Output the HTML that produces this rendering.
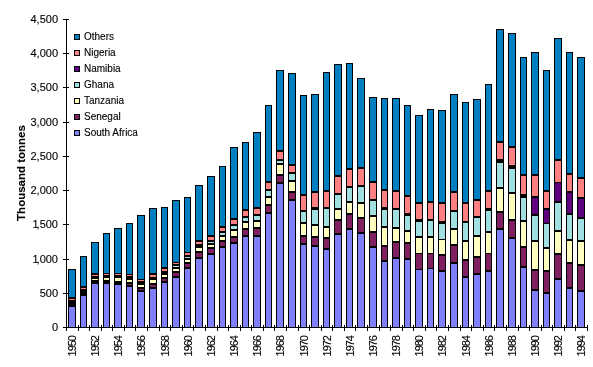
<!DOCTYPE html>
<html><head><meta charset="utf-8"><style>
html,body{margin:0;padding:0;background:#fff;}
body{width:593px;height:367px;overflow:hidden;}
svg{display:block;}
text{filter:grayscale(1);font-family:"Liberation Sans",sans-serif;fill:#000;stroke:#000;stroke-width:0.12px;}
</style></head><body>
<svg width="593" height="367" viewBox="0 0 593 367">
<rect x="0" y="0" width="593" height="367" fill="#fff"/>
<g shape-rendering="crispEdges">
<rect x="68" y="269" width="8" height="58" fill="#000"/>
<rect x="69" y="270" width="6" height="27" fill="#0080C0"/>
<rect x="69" y="299" width="6" height="1" fill="#FF8080"/>
<rect x="69" y="307" width="6" height="20" fill="#8080FF"/>
<rect x="80" y="256" width="7" height="71" fill="#000"/>
<rect x="81" y="257" width="5" height="29" fill="#0080C0"/>
<rect x="81" y="288" width="5" height="1" fill="#FF8080"/>
<rect x="81" y="296" width="5" height="31" fill="#8080FF"/>
<rect x="91" y="242" width="8" height="85" fill="#000"/>
<rect x="92" y="243" width="6" height="30" fill="#0080C0"/>
<rect x="92" y="275" width="6" height="1" fill="#FF8080"/>
<rect x="92" y="279" width="6" height="1" fill="#FFFFC0"/>
<rect x="92" y="284" width="6" height="43" fill="#8080FF"/>
<rect x="103" y="233" width="7" height="94" fill="#000"/>
<rect x="104" y="234" width="5" height="39" fill="#0080C0"/>
<rect x="104" y="274" width="5" height="1" fill="#FF8080"/>
<rect x="104" y="278" width="5" height="2" fill="#FFFFC0"/>
<rect x="104" y="284" width="5" height="43" fill="#8080FF"/>
<rect x="114" y="228" width="8" height="99" fill="#000"/>
<rect x="115" y="229" width="6" height="44" fill="#0080C0"/>
<rect x="115" y="274" width="6" height="1" fill="#FF8080"/>
<rect x="115" y="278" width="6" height="3" fill="#FFFFC0"/>
<rect x="115" y="285" width="6" height="42" fill="#8080FF"/>
<rect x="126" y="223" width="7" height="104" fill="#000"/>
<rect x="127" y="224" width="5" height="50" fill="#0080C0"/>
<rect x="127" y="275" width="5" height="1" fill="#FF8080"/>
<rect x="127" y="280" width="5" height="2" fill="#FFFFC0"/>
<rect x="127" y="284" width="5" height="1" fill="#802060"/>
<rect x="127" y="287" width="5" height="40" fill="#8080FF"/>
<rect x="137" y="215" width="8" height="112" fill="#000"/>
<rect x="138" y="216" width="6" height="63" fill="#0080C0"/>
<rect x="138" y="280" width="6" height="1" fill="#FF8080"/>
<rect x="138" y="285" width="6" height="2" fill="#FFFFC0"/>
<rect x="138" y="289" width="6" height="1" fill="#802060"/>
<rect x="138" y="292" width="6" height="35" fill="#8080FF"/>
<rect x="149" y="208" width="8" height="119" fill="#000"/>
<rect x="150" y="209" width="6" height="64" fill="#0080C0"/>
<rect x="150" y="275" width="6" height="2" fill="#FF8080"/>
<rect x="150" y="280" width="6" height="3" fill="#FFFFC0"/>
<rect x="150" y="285" width="6" height="2" fill="#802060"/>
<rect x="150" y="289" width="6" height="38" fill="#8080FF"/>
<rect x="161" y="207" width="7" height="120" fill="#000"/>
<rect x="162" y="208" width="5" height="59" fill="#0080C0"/>
<rect x="162" y="269" width="5" height="2" fill="#FF8080"/>
<rect x="162" y="275" width="5" height="2" fill="#FFFFC0"/>
<rect x="162" y="279" width="5" height="2" fill="#802060"/>
<rect x="162" y="283" width="5" height="44" fill="#8080FF"/>
<rect x="172" y="200" width="8" height="127" fill="#000"/>
<rect x="173" y="201" width="6" height="61" fill="#0080C0"/>
<rect x="173" y="263" width="6" height="1" fill="#FF8080"/>
<rect x="173" y="266" width="6" height="1" fill="#A0E0E0"/>
<rect x="173" y="269" width="6" height="2" fill="#FFFFC0"/>
<rect x="173" y="273" width="6" height="3" fill="#802060"/>
<rect x="173" y="278" width="6" height="49" fill="#8080FF"/>
<rect x="184" y="197" width="7" height="130" fill="#000"/>
<rect x="185" y="198" width="5" height="54" fill="#0080C0"/>
<rect x="185" y="253" width="5" height="2" fill="#FF8080"/>
<rect x="185" y="257" width="5" height="1" fill="#A0E0E0"/>
<rect x="185" y="260" width="5" height="2" fill="#FFFFC0"/>
<rect x="185" y="264" width="5" height="3" fill="#802060"/>
<rect x="185" y="269" width="5" height="58" fill="#8080FF"/>
<rect x="195" y="185" width="8" height="142" fill="#000"/>
<rect x="196" y="186" width="6" height="54" fill="#0080C0"/>
<rect x="196" y="242" width="6" height="2" fill="#FF8080"/>
<rect x="196" y="248" width="6" height="3" fill="#FFFFC0"/>
<rect x="196" y="253" width="6" height="4" fill="#802060"/>
<rect x="196" y="259" width="6" height="68" fill="#8080FF"/>
<rect x="207" y="176" width="8" height="151" fill="#000"/>
<rect x="208" y="177" width="6" height="58" fill="#0080C0"/>
<rect x="208" y="237" width="6" height="3" fill="#FF8080"/>
<rect x="208" y="242" width="6" height="1" fill="#A0E0E0"/>
<rect x="208" y="245" width="6" height="2" fill="#FFFFC0"/>
<rect x="208" y="249" width="6" height="4" fill="#802060"/>
<rect x="208" y="255" width="6" height="72" fill="#8080FF"/>
<rect x="219" y="166" width="7" height="161" fill="#000"/>
<rect x="220" y="167" width="5" height="59" fill="#0080C0"/>
<rect x="220" y="228" width="5" height="3" fill="#FF8080"/>
<rect x="220" y="233" width="5" height="2" fill="#A0E0E0"/>
<rect x="220" y="237" width="5" height="3" fill="#FFFFC0"/>
<rect x="220" y="242" width="5" height="4" fill="#802060"/>
<rect x="220" y="248" width="5" height="79" fill="#8080FF"/>
<rect x="230" y="147" width="8" height="180" fill="#000"/>
<rect x="231" y="148" width="6" height="70" fill="#0080C0"/>
<rect x="231" y="220" width="6" height="4" fill="#FF8080"/>
<rect x="231" y="226" width="6" height="3" fill="#A0E0E0"/>
<rect x="231" y="231" width="6" height="5" fill="#FFFFC0"/>
<rect x="231" y="238" width="6" height="4" fill="#802060"/>
<rect x="231" y="244" width="6" height="83" fill="#8080FF"/>
<rect x="242" y="142" width="7" height="185" fill="#000"/>
<rect x="243" y="143" width="5" height="66" fill="#0080C0"/>
<rect x="243" y="211" width="5" height="5" fill="#FF8080"/>
<rect x="243" y="218" width="5" height="3" fill="#A0E0E0"/>
<rect x="243" y="223" width="5" height="5" fill="#FFFFC0"/>
<rect x="243" y="230" width="5" height="5" fill="#802060"/>
<rect x="243" y="237" width="5" height="90" fill="#8080FF"/>
<rect x="253" y="132" width="8" height="195" fill="#000"/>
<rect x="254" y="133" width="6" height="74" fill="#0080C0"/>
<rect x="254" y="209" width="6" height="5" fill="#FF8080"/>
<rect x="254" y="216" width="6" height="4" fill="#A0E0E0"/>
<rect x="254" y="222" width="6" height="5" fill="#FFFFC0"/>
<rect x="254" y="229" width="6" height="6" fill="#802060"/>
<rect x="254" y="237" width="6" height="90" fill="#8080FF"/>
<rect x="265" y="105" width="7" height="222" fill="#000"/>
<rect x="266" y="106" width="5" height="75" fill="#0080C0"/>
<rect x="266" y="183" width="5" height="6" fill="#FF8080"/>
<rect x="266" y="191" width="5" height="5" fill="#A0E0E0"/>
<rect x="266" y="198" width="5" height="6" fill="#FFFFC0"/>
<rect x="266" y="206" width="5" height="6" fill="#802060"/>
<rect x="266" y="214" width="5" height="113" fill="#8080FF"/>
<rect x="276" y="70" width="8" height="257" fill="#000"/>
<rect x="277" y="71" width="6" height="79" fill="#0080C0"/>
<rect x="277" y="152" width="6" height="7" fill="#FF8080"/>
<rect x="277" y="161" width="6" height="2" fill="#A0E0E0"/>
<rect x="277" y="165" width="6" height="9" fill="#FFFFC0"/>
<rect x="277" y="176" width="6" height="6" fill="#802060"/>
<rect x="277" y="184" width="6" height="143" fill="#8080FF"/>
<rect x="288" y="73" width="8" height="254" fill="#000"/>
<rect x="289" y="74" width="6" height="90" fill="#0080C0"/>
<rect x="289" y="166" width="6" height="6" fill="#FF8080"/>
<rect x="289" y="174" width="6" height="6" fill="#A0E0E0"/>
<rect x="289" y="182" width="6" height="9" fill="#FFFFC0"/>
<rect x="289" y="193" width="6" height="6" fill="#802060"/>
<rect x="289" y="201" width="6" height="126" fill="#8080FF"/>
<rect x="300" y="95" width="7" height="232" fill="#000"/>
<rect x="301" y="96" width="5" height="98" fill="#0080C0"/>
<rect x="301" y="196" width="5" height="14" fill="#FF8080"/>
<rect x="301" y="212" width="5" height="10" fill="#A0E0E0"/>
<rect x="301" y="224" width="5" height="11" fill="#FFFFC0"/>
<rect x="301" y="237" width="5" height="6" fill="#802060"/>
<rect x="301" y="245" width="5" height="82" fill="#8080FF"/>
<rect x="311" y="94" width="8" height="233" fill="#000"/>
<rect x="312" y="95" width="6" height="96" fill="#0080C0"/>
<rect x="312" y="193" width="6" height="14" fill="#FF8080"/>
<rect x="312" y="210" width="6" height="14" fill="#A0E0E0"/>
<rect x="312" y="226" width="6" height="10" fill="#FFFFC0"/>
<rect x="312" y="238" width="6" height="7" fill="#802060"/>
<rect x="312" y="247" width="6" height="80" fill="#8080FF"/>
<rect x="323" y="72" width="7" height="255" fill="#000"/>
<rect x="324" y="73" width="5" height="117" fill="#0080C0"/>
<rect x="324" y="192" width="5" height="15" fill="#FF8080"/>
<rect x="324" y="209" width="5" height="17" fill="#A0E0E0"/>
<rect x="324" y="228" width="5" height="9" fill="#FFFFC0"/>
<rect x="324" y="239" width="5" height="9" fill="#802060"/>
<rect x="324" y="250" width="5" height="77" fill="#8080FF"/>
<rect x="334" y="64" width="8" height="263" fill="#000"/>
<rect x="335" y="65" width="6" height="110" fill="#0080C0"/>
<rect x="335" y="177" width="6" height="16" fill="#FF8080"/>
<rect x="335" y="195" width="6" height="13" fill="#A0E0E0"/>
<rect x="335" y="210" width="6" height="9" fill="#FFFFC0"/>
<rect x="335" y="221" width="6" height="12" fill="#802060"/>
<rect x="335" y="235" width="6" height="92" fill="#8080FF"/>
<rect x="346" y="63" width="7" height="264" fill="#000"/>
<rect x="347" y="64" width="5" height="104" fill="#0080C0"/>
<rect x="347" y="170" width="5" height="16" fill="#FF8080"/>
<rect x="347" y="188" width="5" height="13" fill="#A0E0E0"/>
<rect x="347" y="203" width="5" height="10" fill="#FFFFC0"/>
<rect x="347" y="215" width="5" height="13" fill="#802060"/>
<rect x="347" y="230" width="5" height="97" fill="#8080FF"/>
<rect x="357" y="78" width="8" height="249" fill="#000"/>
<rect x="358" y="79" width="6" height="88" fill="#0080C0"/>
<rect x="358" y="169" width="6" height="16" fill="#FF8080"/>
<rect x="358" y="187" width="6" height="15" fill="#A0E0E0"/>
<rect x="358" y="204" width="6" height="13" fill="#FFFFC0"/>
<rect x="358" y="219" width="6" height="13" fill="#802060"/>
<rect x="358" y="234" width="6" height="93" fill="#8080FF"/>
<rect x="369" y="97" width="8" height="230" fill="#000"/>
<rect x="370" y="98" width="6" height="83" fill="#0080C0"/>
<rect x="370" y="183" width="6" height="16" fill="#FF8080"/>
<rect x="370" y="201" width="6" height="14" fill="#A0E0E0"/>
<rect x="370" y="217" width="6" height="14" fill="#FFFFC0"/>
<rect x="370" y="233" width="6" height="13" fill="#802060"/>
<rect x="370" y="248" width="6" height="79" fill="#8080FF"/>
<rect x="381" y="98" width="7" height="229" fill="#000"/>
<rect x="382" y="99" width="5" height="90" fill="#0080C0"/>
<rect x="382" y="191" width="5" height="16" fill="#FF8080"/>
<rect x="382" y="210" width="5" height="16" fill="#A0E0E0"/>
<rect x="382" y="228" width="5" height="17" fill="#FFFFC0"/>
<rect x="382" y="247" width="5" height="13" fill="#802060"/>
<rect x="382" y="262" width="5" height="65" fill="#8080FF"/>
<rect x="392" y="98" width="8" height="229" fill="#000"/>
<rect x="393" y="99" width="6" height="91" fill="#0080C0"/>
<rect x="393" y="192" width="6" height="16" fill="#FF8080"/>
<rect x="393" y="210" width="6" height="17" fill="#A0E0E0"/>
<rect x="393" y="229" width="6" height="12" fill="#FFFFC0"/>
<rect x="393" y="243" width="6" height="14" fill="#802060"/>
<rect x="393" y="259" width="6" height="68" fill="#8080FF"/>
<rect x="404" y="105" width="7" height="222" fill="#000"/>
<rect x="405" y="106" width="5" height="89" fill="#0080C0"/>
<rect x="405" y="197" width="5" height="16" fill="#FF8080"/>
<rect x="405" y="216" width="5" height="14" fill="#A0E0E0"/>
<rect x="405" y="232" width="5" height="10" fill="#FFFFC0"/>
<rect x="405" y="244" width="5" height="14" fill="#802060"/>
<rect x="405" y="260" width="5" height="67" fill="#8080FF"/>
<rect x="415" y="115" width="8" height="212" fill="#000"/>
<rect x="416" y="116" width="6" height="86" fill="#0080C0"/>
<rect x="416" y="204" width="6" height="15" fill="#FF8080"/>
<rect x="416" y="222" width="6" height="14" fill="#A0E0E0"/>
<rect x="416" y="238" width="6" height="15" fill="#FFFFC0"/>
<rect x="416" y="254" width="6" height="15" fill="#802060"/>
<rect x="416" y="270" width="6" height="57" fill="#8080FF"/>
<rect x="427" y="109" width="7" height="218" fill="#000"/>
<rect x="428" y="110" width="5" height="91" fill="#0080C0"/>
<rect x="428" y="203" width="5" height="16" fill="#FF8080"/>
<rect x="428" y="221" width="5" height="15" fill="#A0E0E0"/>
<rect x="428" y="238" width="5" height="15" fill="#FFFFC0"/>
<rect x="428" y="254" width="5" height="14" fill="#802060"/>
<rect x="428" y="269" width="5" height="58" fill="#8080FF"/>
<rect x="438" y="110" width="8" height="217" fill="#000"/>
<rect x="439" y="111" width="6" height="91" fill="#0080C0"/>
<rect x="439" y="204" width="6" height="17" fill="#FF8080"/>
<rect x="439" y="224" width="6" height="15" fill="#A0E0E0"/>
<rect x="439" y="240" width="6" height="14" fill="#FFFFC0"/>
<rect x="439" y="256" width="6" height="14" fill="#802060"/>
<rect x="439" y="272" width="6" height="55" fill="#8080FF"/>
<rect x="450" y="94" width="8" height="233" fill="#000"/>
<rect x="451" y="95" width="6" height="96" fill="#0080C0"/>
<rect x="451" y="193" width="6" height="17" fill="#FF8080"/>
<rect x="451" y="212" width="6" height="16" fill="#A0E0E0"/>
<rect x="451" y="230" width="6" height="14" fill="#FFFFC0"/>
<rect x="451" y="246" width="6" height="16" fill="#802060"/>
<rect x="451" y="264" width="6" height="63" fill="#8080FF"/>
<rect x="462" y="102" width="7" height="225" fill="#000"/>
<rect x="463" y="103" width="5" height="99" fill="#0080C0"/>
<rect x="463" y="204" width="5" height="17" fill="#FF8080"/>
<rect x="463" y="223" width="5" height="17" fill="#A0E0E0"/>
<rect x="463" y="242" width="5" height="17" fill="#FFFFC0"/>
<rect x="463" y="261" width="5" height="15" fill="#802060"/>
<rect x="463" y="278" width="5" height="49" fill="#8080FF"/>
<rect x="473" y="99" width="8" height="228" fill="#000"/>
<rect x="474" y="100" width="6" height="99" fill="#0080C0"/>
<rect x="474" y="201" width="6" height="15" fill="#FF8080"/>
<rect x="474" y="218" width="6" height="17" fill="#A0E0E0"/>
<rect x="474" y="237" width="6" height="19" fill="#FFFFC0"/>
<rect x="474" y="258" width="6" height="15" fill="#802060"/>
<rect x="474" y="275" width="6" height="52" fill="#8080FF"/>
<rect x="485" y="84" width="7" height="243" fill="#000"/>
<rect x="486" y="85" width="5" height="105" fill="#0080C0"/>
<rect x="486" y="192" width="5" height="16" fill="#FF8080"/>
<rect x="486" y="211" width="5" height="20" fill="#A0E0E0"/>
<rect x="486" y="233" width="5" height="20" fill="#FFFFC0"/>
<rect x="486" y="254" width="5" height="16" fill="#802060"/>
<rect x="486" y="272" width="5" height="55" fill="#8080FF"/>
<rect x="496" y="29" width="8" height="298" fill="#000"/>
<rect x="497" y="30" width="6" height="111" fill="#0080C0"/>
<rect x="497" y="143" width="6" height="16" fill="#FF8080"/>
<rect x="497" y="163" width="6" height="24" fill="#A0E0E0"/>
<rect x="497" y="189" width="6" height="22" fill="#FFFFC0"/>
<rect x="497" y="213" width="6" height="15" fill="#802060"/>
<rect x="497" y="230" width="6" height="97" fill="#8080FF"/>
<rect x="508" y="33" width="8" height="294" fill="#000"/>
<rect x="509" y="34" width="6" height="112" fill="#0080C0"/>
<rect x="509" y="148" width="6" height="17" fill="#FF8080"/>
<rect x="509" y="169" width="6" height="23" fill="#A0E0E0"/>
<rect x="509" y="194" width="6" height="25" fill="#FFFFC0"/>
<rect x="509" y="221" width="6" height="16" fill="#802060"/>
<rect x="509" y="239" width="6" height="88" fill="#8080FF"/>
<rect x="520" y="57" width="7" height="270" fill="#000"/>
<rect x="521" y="58" width="5" height="116" fill="#0080C0"/>
<rect x="521" y="176" width="5" height="18" fill="#FF8080"/>
<rect x="521" y="198" width="5" height="22" fill="#A0E0E0"/>
<rect x="521" y="222" width="5" height="24" fill="#FFFFC0"/>
<rect x="521" y="248" width="5" height="18" fill="#802060"/>
<rect x="521" y="268" width="5" height="59" fill="#8080FF"/>
<rect x="531" y="52" width="8" height="275" fill="#000"/>
<rect x="532" y="53" width="6" height="121" fill="#0080C0"/>
<rect x="532" y="176" width="6" height="20" fill="#FF8080"/>
<rect x="532" y="198" width="6" height="16" fill="#600080"/>
<rect x="532" y="216" width="6" height="24" fill="#A0E0E0"/>
<rect x="532" y="242" width="6" height="27" fill="#FFFFC0"/>
<rect x="532" y="271" width="6" height="18" fill="#802060"/>
<rect x="532" y="291" width="6" height="36" fill="#8080FF"/>
<rect x="543" y="70" width="7" height="257" fill="#000"/>
<rect x="544" y="71" width="5" height="119" fill="#0080C0"/>
<rect x="544" y="192" width="5" height="16" fill="#FF8080"/>
<rect x="544" y="210" width="5" height="13" fill="#600080"/>
<rect x="544" y="224" width="5" height="23" fill="#A0E0E0"/>
<rect x="544" y="249" width="5" height="21" fill="#FFFFC0"/>
<rect x="544" y="272" width="5" height="20" fill="#802060"/>
<rect x="544" y="294" width="5" height="33" fill="#8080FF"/>
<rect x="554" y="38" width="8" height="289" fill="#000"/>
<rect x="555" y="39" width="6" height="120" fill="#0080C0"/>
<rect x="555" y="161" width="6" height="21" fill="#FF8080"/>
<rect x="555" y="183" width="6" height="18" fill="#600080"/>
<rect x="555" y="203" width="6" height="27" fill="#A0E0E0"/>
<rect x="555" y="232" width="6" height="21" fill="#FFFFC0"/>
<rect x="555" y="255" width="6" height="23" fill="#802060"/>
<rect x="555" y="280" width="6" height="47" fill="#8080FF"/>
<rect x="566" y="52" width="7" height="275" fill="#000"/>
<rect x="567" y="53" width="5" height="120" fill="#0080C0"/>
<rect x="567" y="175" width="5" height="16" fill="#FF8080"/>
<rect x="567" y="193" width="5" height="20" fill="#600080"/>
<rect x="567" y="215" width="5" height="24" fill="#A0E0E0"/>
<rect x="567" y="241" width="5" height="21" fill="#FFFFC0"/>
<rect x="567" y="264" width="5" height="23" fill="#802060"/>
<rect x="567" y="289" width="5" height="38" fill="#8080FF"/>
<rect x="577" y="57" width="8" height="270" fill="#000"/>
<rect x="578" y="58" width="6" height="119" fill="#0080C0"/>
<rect x="578" y="179" width="6" height="18" fill="#FF8080"/>
<rect x="578" y="199" width="6" height="18" fill="#600080"/>
<rect x="578" y="219" width="6" height="21" fill="#A0E0E0"/>
<rect x="578" y="242" width="6" height="22" fill="#FFFFC0"/>
<rect x="578" y="266" width="6" height="24" fill="#802060"/>
<rect x="578" y="292" width="6" height="35" fill="#8080FF"/>
<rect x="66" y="19" width="1" height="312" fill="#000"/>
<rect x="63" y="327" width="525" height="1" fill="#000"/>
<rect x="63" y="19" width="6" height="1" fill="#000"/>
<rect x="63" y="53" width="6" height="1" fill="#000"/>
<rect x="63" y="87" width="6" height="1" fill="#000"/>
<rect x="63" y="122" width="6" height="1" fill="#000"/>
<rect x="63" y="156" width="6" height="1" fill="#000"/>
<rect x="63" y="190" width="6" height="1" fill="#000"/>
<rect x="63" y="224" width="6" height="1" fill="#000"/>
<rect x="63" y="259" width="6" height="1" fill="#000"/>
<rect x="63" y="293" width="6" height="1" fill="#000"/>
<rect x="63" y="327" width="6" height="1" fill="#000"/>
<rect x="66" y="325" width="1" height="6" fill="#000"/>
<rect x="78" y="325" width="1" height="6" fill="#000"/>
<rect x="89" y="325" width="1" height="6" fill="#000"/>
<rect x="101" y="325" width="1" height="6" fill="#000"/>
<rect x="112" y="325" width="1" height="6" fill="#000"/>
<rect x="124" y="325" width="1" height="6" fill="#000"/>
<rect x="135" y="325" width="1" height="6" fill="#000"/>
<rect x="147" y="325" width="1" height="6" fill="#000"/>
<rect x="159" y="325" width="1" height="6" fill="#000"/>
<rect x="170" y="325" width="1" height="6" fill="#000"/>
<rect x="182" y="325" width="1" height="6" fill="#000"/>
<rect x="193" y="325" width="1" height="6" fill="#000"/>
<rect x="205" y="325" width="1" height="6" fill="#000"/>
<rect x="217" y="325" width="1" height="6" fill="#000"/>
<rect x="228" y="325" width="1" height="6" fill="#000"/>
<rect x="240" y="325" width="1" height="6" fill="#000"/>
<rect x="251" y="325" width="1" height="6" fill="#000"/>
<rect x="263" y="325" width="1" height="6" fill="#000"/>
<rect x="274" y="325" width="1" height="6" fill="#000"/>
<rect x="286" y="325" width="1" height="6" fill="#000"/>
<rect x="298" y="325" width="1" height="6" fill="#000"/>
<rect x="309" y="325" width="1" height="6" fill="#000"/>
<rect x="321" y="325" width="1" height="6" fill="#000"/>
<rect x="332" y="325" width="1" height="6" fill="#000"/>
<rect x="344" y="325" width="1" height="6" fill="#000"/>
<rect x="355" y="325" width="1" height="6" fill="#000"/>
<rect x="367" y="325" width="1" height="6" fill="#000"/>
<rect x="379" y="325" width="1" height="6" fill="#000"/>
<rect x="390" y="325" width="1" height="6" fill="#000"/>
<rect x="402" y="325" width="1" height="6" fill="#000"/>
<rect x="413" y="325" width="1" height="6" fill="#000"/>
<rect x="425" y="325" width="1" height="6" fill="#000"/>
<rect x="436" y="325" width="1" height="6" fill="#000"/>
<rect x="448" y="325" width="1" height="6" fill="#000"/>
<rect x="460" y="325" width="1" height="6" fill="#000"/>
<rect x="471" y="325" width="1" height="6" fill="#000"/>
<rect x="483" y="325" width="1" height="6" fill="#000"/>
<rect x="494" y="325" width="1" height="6" fill="#000"/>
<rect x="506" y="325" width="1" height="6" fill="#000"/>
<rect x="518" y="325" width="1" height="6" fill="#000"/>
<rect x="529" y="325" width="1" height="6" fill="#000"/>
<rect x="541" y="325" width="1" height="6" fill="#000"/>
<rect x="552" y="325" width="1" height="6" fill="#000"/>
<rect x="564" y="325" width="1" height="6" fill="#000"/>
<rect x="575" y="325" width="1" height="6" fill="#000"/>
<rect x="587" y="325" width="1" height="6" fill="#000"/>
<rect x="74" y="34" width="6" height="6" fill="#000"/><rect x="75" y="35" width="4" height="4" fill="#0080C0"/><rect x="74" y="50" width="6" height="6" fill="#000"/><rect x="75" y="51" width="4" height="4" fill="#FF8080"/><rect x="74" y="66" width="6" height="6" fill="#000"/><rect x="75" y="67" width="4" height="4" fill="#600080"/><rect x="74" y="82" width="6" height="6" fill="#000"/><rect x="75" y="83" width="4" height="4" fill="#A0E0E0"/><rect x="74" y="98" width="6" height="6" fill="#000"/><rect x="75" y="99" width="4" height="4" fill="#FFFFC0"/><rect x="74" y="114" width="6" height="6" fill="#000"/><rect x="75" y="115" width="4" height="4" fill="#802060"/><rect x="74" y="130" width="6" height="6" fill="#000"/><rect x="75" y="131" width="4" height="4" fill="#8080FF"/>
</g>
<text x="58" y="23" text-anchor="end" font-size="11">4,500</text>
<text x="58" y="57" text-anchor="end" font-size="11">4,000</text>
<text x="58" y="91" text-anchor="end" font-size="11">3,500</text>
<text x="58" y="126" text-anchor="end" font-size="11">3,000</text>
<text x="58" y="160" text-anchor="end" font-size="11">2,500</text>
<text x="58" y="194" text-anchor="end" font-size="11">2,000</text>
<text x="58" y="228" text-anchor="end" font-size="11"><tspan letter-spacing="-2">1</tspan>,500</text>
<text x="58" y="263" text-anchor="end" font-size="11"><tspan letter-spacing="-2">1</tspan>,000</text>
<text x="58" y="297" text-anchor="end" font-size="11">500</text>
<text x="58" y="331" text-anchor="end" font-size="11">0</text>
<text transform="translate(76,336) rotate(-90)" text-anchor="end" font-size="11" letter-spacing="-1">1950</text>
<text transform="translate(99,336) rotate(-90)" text-anchor="end" font-size="11" letter-spacing="-1">1952</text>
<text transform="translate(122,336) rotate(-90)" text-anchor="end" font-size="11" letter-spacing="-1">1954</text>
<text transform="translate(145,336) rotate(-90)" text-anchor="end" font-size="11" letter-spacing="-1">1956</text>
<text transform="translate(169,336) rotate(-90)" text-anchor="end" font-size="11" letter-spacing="-1">1958</text>
<text transform="translate(192,336) rotate(-90)" text-anchor="end" font-size="11" letter-spacing="-1">1960</text>
<text transform="translate(215,336) rotate(-90)" text-anchor="end" font-size="11" letter-spacing="-1">1962</text>
<text transform="translate(238,336) rotate(-90)" text-anchor="end" font-size="11" letter-spacing="-1">1964</text>
<text transform="translate(261,336) rotate(-90)" text-anchor="end" font-size="11" letter-spacing="-1">1966</text>
<text transform="translate(284,336) rotate(-90)" text-anchor="end" font-size="11" letter-spacing="-1">1968</text>
<text transform="translate(308,336) rotate(-90)" text-anchor="end" font-size="11" letter-spacing="-1">1970</text>
<text transform="translate(331,336) rotate(-90)" text-anchor="end" font-size="11" letter-spacing="-1">1972</text>
<text transform="translate(354,336) rotate(-90)" text-anchor="end" font-size="11" letter-spacing="-1">1974</text>
<text transform="translate(377,336) rotate(-90)" text-anchor="end" font-size="11" letter-spacing="-1">1976</text>
<text transform="translate(400,336) rotate(-90)" text-anchor="end" font-size="11" letter-spacing="-1">1978</text>
<text transform="translate(423,336) rotate(-90)" text-anchor="end" font-size="11" letter-spacing="-1">1980</text>
<text transform="translate(446,336) rotate(-90)" text-anchor="end" font-size="11" letter-spacing="-1">1982</text>
<text transform="translate(470,336) rotate(-90)" text-anchor="end" font-size="11" letter-spacing="-1">1984</text>
<text transform="translate(493,336) rotate(-90)" text-anchor="end" font-size="11" letter-spacing="-1">1986</text>
<text transform="translate(516,336) rotate(-90)" text-anchor="end" font-size="11" letter-spacing="-1">1988</text>
<text transform="translate(539,336) rotate(-90)" text-anchor="end" font-size="11" letter-spacing="-1">1990</text>
<text transform="translate(562,336) rotate(-90)" text-anchor="end" font-size="11" letter-spacing="-1">1992</text>
<text transform="translate(585,336) rotate(-90)" text-anchor="end" font-size="11" letter-spacing="-1">1994</text>
<text transform="translate(24.5,173) rotate(-90)" text-anchor="middle" font-size="11.5" font-weight="bold">Thousand tonnes</text>
<text x="84" y="40" font-size="10">Others</text>
<text x="84" y="56" font-size="10">Nigeria</text>
<text x="84" y="72" font-size="10">Namibia</text>
<text x="84" y="88" font-size="10">Ghana</text>
<text x="84" y="104" font-size="10">Tanzania</text>
<text x="84" y="120" font-size="10">Senegal</text>
<text x="84" y="136" font-size="10">South Africa</text>
</svg>
</body></html>
